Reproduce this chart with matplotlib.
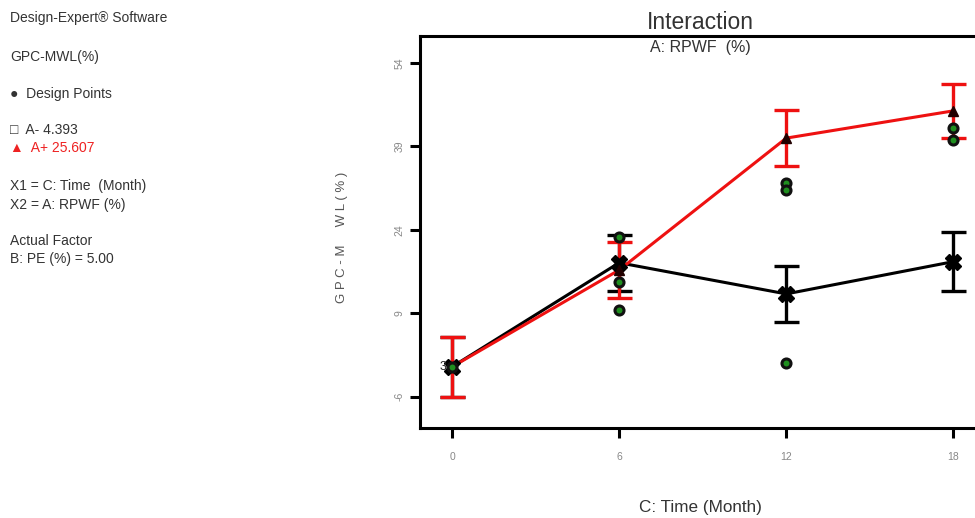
import matplotlib
matplotlib.use("Agg")
import matplotlib.pyplot as plt

plt.rcParams['font.family'] = ['Liberation Sans', 'DejaVu Sans']

# Data
time_months = [0, 6, 12, 18]
low_mean = [-0.6, 18.1, 12.5, 18.3]     # A- 4.393
high_mean = [-0.6, 16.8, 40.5, 45.4]    # A+ 25.607
low_err = [5.4, 5.0, 5.0, 5.3]
high_err = [5.4, 5.0, 5.0, 4.9]
design_x = [0, 6, 6, 6, 12, 12, 12, 18, 18]
design_y = [-0.6, 22.7, 14.7, 9.6, 32.4, 31.2, 0.0, 42.3, 40.2]
yticks = [-6, 9, 24, 39, 54]
xticks = [0, 6, 12, 18]

fig = plt.figure(figsize=(9.75, 5.18), dpi=100)
ax = fig.add_axes([0.4308, 0.1737, 0.585, 0.7568])

ax.errorbar(time_months, low_mean, yerr=low_err, color='black', lw=2.2,
            elinewidth=2.4, capsize=9, capthick=2.4, zorder=3)
ax.errorbar(time_months, high_mean, yerr=high_err, color='#ee1111', lw=2.2,
            elinewidth=2.4, capsize=9, capthick=2.4, zorder=4)
ax.plot(time_months, low_mean, linestyle='none', marker='X', ms=12,
        color='black', zorder=5)
ax.plot(time_months[1:], high_mean[1:], linestyle='none', marker='^', ms=7,
        color='#220000', zorder=5)
ax.plot(design_x, design_y, linestyle='none', marker='o', ms=6.5,
        markerfacecolor='#1f8f1f', markeredgecolor='#111111', mew=2.2, zorder=6)
ax.text(-0.2, -0.6, '3', fontsize=9, ha='right', va='center', color='#222222', zorder=7)

ax.set_xlim(-1.15, 19.33)
ax.set_ylim(-11.6, 58.85)
ax.set_xticks(xticks)
ax.set_yticks(yticks)
ax.set_xticklabels([str(t) for t in xticks], fontsize=7.5, color='#888888')
ax.set_yticklabels([str(t) for t in yticks], fontsize=7.5, color='#888888', rotation=90, va='center')
ax.tick_params(axis='both', direction='out', length=7, width=2.2)
ax.tick_params(axis='x', pad=10)
ax.tick_params(axis='y', pad=4)
for s in ax.spines.values():
    s.set_linewidth(2.2)

fig.text(0.718, 0.957, 'Interaction', fontsize=16.5, ha='center', va='center', color='#333333')
fig.text(0.718, 0.909, 'A: RPWF  (%)', fontsize=11.5, ha='center', va='center', color='#333333')
fig.text(0.351, 0.5425, 'G P C - M     W L ( % )', fontsize=9.5, rotation=90,
         ha='center', va='center', color='#555555')
fig.text(0.718, 0.021, 'C: Time (Month)', fontsize=12.3, ha='center', va='center', color='#333333')

left = [
    (18, 'Design-Expert® Software', '#333333'),
    (57, 'GPC-MWL(%)', '#333333'),
    (94, '●  Design Points', '#333333'),
    (130, '□  A- 4.393', '#333333'),
    (148, '▲  A+ 25.607', '#ee2222'),
    (186, 'X1 = C: Time  (Month)', '#333333'),
    (205, 'X2 = A: RPWF (%)', '#333333'),
    (241, 'Actual Factor', '#333333'),
    (259, 'B: PE (%) = 5.00', '#333333'),
]
for ypx, txt, col in left:
    fig.text(10 / 975, 1 - ypx / 518, txt, fontsize=10, ha='left', va='center', color=col)

fig.savefig('out.png', dpi=100)
